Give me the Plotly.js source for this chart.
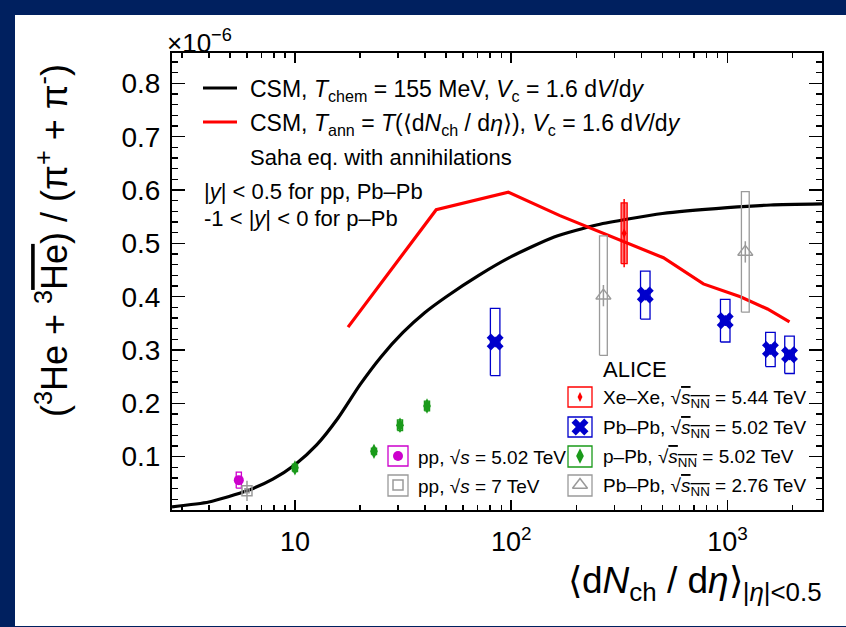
<!DOCTYPE html>
<html>
<head>
<meta charset="utf-8">
<script src="https://cdn.plot.ly/plotly-3.0.1.min.js"></script>
<style>html,body{margin:0;padding:0;background:#00205f;}#chart{width:846px;height:627px;}</style>
</head>
<body>
<div id="chart"></div>
<script>
// ---------- data (values in units of 1e-6) ----------
const csmX = [2.7, 4.0, 6.0, 7.9, 10, 12.6, 15.8, 20, 25.1, 31.6, 39.8, 50.1, 70.8, 100, 158, 251, 501, 1000, 1585, 2738];
const csmY = [0.006, 0.015, 0.036, 0.058, 0.085, 0.122, 0.172, 0.235, 0.288, 0.333, 0.37, 0.4, 0.44, 0.475, 0.512, 0.535, 0.556, 0.567, 0.572, 0.574];

const annX = [17.6, 45, 97, 168, 506, 774, 1148, 1532, 1937];
const annY = [0.343, 0.563, 0.596, 0.552, 0.473, 0.424, 0.40, 0.377, 0.353];

const xexeX = [333];
const xexeY = [0.519];
const xexeSys = [0.057];
const xexeStat = [0.064];

const pb502X = [84.3, 417, 977, 1581, 1937];
const pb502Y = [0.315, 0.403, 0.355, 0.301, 0.291];
const pb502Sys = [0.063, 0.045, 0.040, 0.032, 0.035];
const pb502Stat = [0.010, 0.010, 0.010, 0.010, 0.010];

const pb276X = [267, 1210];
const pb276Y = [0.402, 0.484];
const pb276Sys = [0.112, 0.113];
const pb276Stat = [0.020, 0.020];

const ppbX = [10, 23.2, 30.6, 40.8];
const ppbY = [0.079, 0.110, 0.159, 0.195];
const ppbSys = [0.007, 0.006, 0.010, 0.009];
const ppbStat = [0.006, 0.006, 0.012, 0.010];

const pp502X = [5.5];
const pp502Y = [0.056];
const pp502Sys = [0.015];
const pp502Stat = [0.006];

const pp7X = [6.0];
const pp7Y = [0.036];
const pp7Sys = [0.004];
const pp7Stat = [0.019];

const xTickVals = [10, 100, 1000];
const xTickText = ['10', '10<sup>2</sup>', '10<sup>3</sup>'];
const xMinorVals = [3,4,5,6,7,8,9,20,30,40,50,60,70,80,90,200,300,400,500,600,700,800,900,2000];
const yTickVals = [0.1, 0.2, 0.3, 0.4, 0.5, 0.6, 0.7, 0.8];
const yTickText = ['0.1','0.2','0.3','0.4','0.5','0.6','0.7','0.8'];

// ---------- styling / layout helpers ----------
const FONT = 'Liberation Sans, Arial, Helvetica, sans-serif';
const NAVY = '#00205f';
const RED = '#ff0000', BLUE = '#0000cc', GREEN = '#1a9a1a', MAG = '#cc00cc', GRAY = '#9a9a9a';
const L = 172, R = 822, T = 53, B = 510;
const px = x => (x - L) / (R - L);
const py = y => (B - y) / (B - T);

function boxTrace(xs, ys, sys, hw, color, fill) {
  const bx = [], by = [];
  xs.forEach((x, i) => {
    const x0 = x * Math.pow(10, -hw), x1 = x * Math.pow(10, hw);
    const lo = ys[i] - sys[i], hi = ys[i] + sys[i];
    bx.push(x0, x1, x1, x0, x0, null);
    by.push(lo, lo, hi, hi, lo, null);
  });
  return {x: bx, y: by, mode: 'lines', type: 'scatter', line: {color: color, width: 1.3},
          fill: fill ? 'toself' : 'none', fillcolor: fill || 'rgba(0,0,0,0)',
          hoverinfo: 'skip', showlegend: false, connectgaps: false};
}
function ptTrace(xs, ys, stat, sym, size, color, lw) {
  return {x: xs, y: ys, mode: 'markers', type: 'scatter', showlegend: false,
          marker: {symbol: sym, size: size, color: color, line: {color: color, width: lw || 0}},
          error_y: {type: 'data', array: stat, visible: true, color: color, thickness: 1.5, width: 0}};
}

const traces = [
  {x: csmX, y: csmY, mode: 'lines', type: 'scatter', line: {color: '#000', width: 3.2, shape: 'spline', smoothing: 0.6}, showlegend: false},
  {x: annX, y: annY, mode: 'lines', type: 'scatter', line: {color: RED, width: 3.2}, showlegend: false},
  boxTrace(pb276X, pb276Y, pb276Sys, 0.018, GRAY, null),
  ptTrace(pb276X, pb276Y, pb276Stat, 'triangle-up-open', 13, GRAY, 1.5),
  boxTrace(pb502X, pb502Y, pb502Sys, 0.022, BLUE, null),
  ptTrace(pb502X, pb502Y, pb502Stat, 'x', 15, BLUE, 0),
  boxTrace(xexeX, xexeY, xexeSys, 0.014, RED, 'rgba(255,0,0,0.5)'),
  ptTrace(xexeX, xexeY, xexeStat, 'diamond-tall', 7, RED, 0),
  boxTrace(ppbX, ppbY, ppbSys, 0.012, GREEN, 'rgba(26,154,26,0.3)'),
  ptTrace(ppbX, ppbY, ppbStat, 'diamond-tall', 11, GREEN, 0),
  boxTrace(pp502X, pp502Y, pp502Sys, 0.012, MAG, null),
  ptTrace(pp502X, pp502Y, pp502Stat, 'circle', 10, MAG, 0),
  boxTrace(pp7X, pp7Y, pp7Sys, 0.010, GRAY, null),
  ptTrace(pp7X, pp7Y, pp7Stat, 'square-open', 10, GRAY, 1.5)
];

// legend symbols (pixel-space overlay axes)
const legSym = [
  {x: 580, y: 397, s: 'diamond-tall', z: 7, c: RED, lw: 0},
  {x: 580, y: 427, s: 'x', z: 15, c: BLUE, lw: 0},
  {x: 580, y: 456, s: 'diamond-tall', z: 11, c: GREEN, lw: 0},
  {x: 580, y: 485, s: 'triangle-up-open', z: 13, c: GRAY, lw: 1.5},
  {x: 398, y: 456, s: 'circle', z: 10, c: MAG, lw: 0},
  {x: 398, y: 485, s: 'square-open', z: 10, c: GRAY, lw: 1.5}
];
legSym.forEach(m => traces.push({x: [m.x], y: [m.y], xaxis: 'x2', yaxis: 'y2', mode: 'markers', type: 'scatter',
  showlegend: false, cliponaxis: false, hoverinfo: 'skip',
  marker: {symbol: m.s, size: m.z, color: m.c, line: {color: m.c, width: m.lw}}}));

const shapes = [
  {type: 'rect', xref: 'paper', yref: 'paper', x0: px(15), x1: px(846), y0: py(626), y1: py(15),
   fillcolor: '#ffffff', line: {width: 0}, layer: 'below'},
  {type: 'line', xref: 'paper', yref: 'paper', x0: px(203), x1: px(237), y0: py(88), y1: py(88), line: {color: '#000', width: 3.2}},
  {type: 'line', xref: 'paper', yref: 'paper', x0: px(203), x1: px(237), y0: py(122), y1: py(122), line: {color: RED, width: 3.2}}
];
const legBoxes = [
  [568, 592, 387, 407, RED], [568, 592, 417, 437, BLUE], [568, 592, 446, 467, GREEN], [568, 592, 475, 496, GRAY],
  [388, 408, 446, 466, MAG], [388, 408, 475, 496, GRAY]
];
legBoxes.forEach(b => shapes.push({type: 'rect', xref: 'paper', yref: 'paper', x0: px(b[0]), x1: px(b[1]),
  y0: py(b[3]), y1: py(b[2]), line: {color: b[4], width: 1.3}, fillcolor: 'rgba(0,0,0,0)'}));

const sq = '√<span style="text-decoration:overline"><i>s</i><sub>NN</sub></span>';
function ann(text, x, y, size, xa, extra) {
  return Object.assign({text: text, xref: 'paper', yref: 'paper', x: px(x), y: py(y), xanchor: xa || 'left',
    yanchor: 'middle', showarrow: false, font: {family: FONT, size: size, color: '#000'}}, extra || {});
}
const annotations = [
  ann('×10<sup>−6</sup>', 165, 42, 26),
  ann('(<sup>3</sup>He + <sup>3</sup><span style="text-decoration:overline">He</span>) / (π<sup>+</sup> + π<sup>-</sup>)', 52, 241, 36, 'center', {textangle: -90}),
  ann('⟨d<i>N</i><sub>ch</sub> / d<i>η</i>⟩<sub>|<i>η</i>|&lt;0.5</sub>', 824, 583, 37, 'right'),
  ann('CSM, <i>T</i><sub>chem</sub> = 155 MeV, <i>V</i><sub>c</sub> = 1.6 d<i>V</i>/d<i>y</i>', 248, 90, 23),
  ann('CSM, <i>T</i><sub>ann</sub> = <i>T</i>(⟨d<i>N</i><sub>ch</sub> / d<i>η</i>⟩), <i>V</i><sub>c</sub> = 1.6 d<i>V</i>/d<i>y</i>', 248, 124, 23),
  ann('Saha eq. with annihilations', 248, 157, 22),
  ann('|<i>y</i>| &lt; 0.5 for pp, Pb–Pb', 202, 191, 22),
  ann('-1 &lt; |<i>y</i>| &lt; 0 for p–Pb', 202, 219, 22),
  ann('ALICE', 601, 369, 22),
  ann('Xe–Xe, ' + sq + ' = 5.44 TeV', 601, 399, 19),
  ann('Pb–Pb, ' + sq + ' = 5.02 TeV', 601, 429, 19),
  ann('p–Pb, ' + sq + ' = 5.02 TeV', 601, 458, 19),
  ann('Pb–Pb, ' + sq + ' = 2.76 TeV', 601, 487, 19),
  ann('pp, √<i>s</i> = 5.02 TeV', 416, 457, 19),
  ann('pp, √<i>s</i> = 7 TeV', 416, 486, 19)
];

const axisCommon = {showline: true, linecolor: '#000', linewidth: 2, mirror: 'ticks', ticks: 'inside',
  tickcolor: '#000', tickwidth: 1.5, showgrid: false, zeroline: false,
  tickfont: {family: FONT, size: 27, color: '#000'}};

const layout = {
  width: 846, height: 627, autosize: false,
  margin: {l: L, r: 846 - R, t: T, b: 627 - B, pad: 0},
  paper_bgcolor: NAVY, plot_bgcolor: '#ffffff',
  showlegend: false,
  xaxis: Object.assign({}, axisCommon, {type: 'log', range: [Math.log10(2.7), Math.log10(2738)],
    tickmode: 'array', tickvals: xTickVals, ticktext: xTickText, ticklen: 10, ticklabelstandoff: 7,
    minor: {tickmode: 'array', tickvals: xMinorVals, ticks: 'inside', ticklen: 5, tickwidth: 1.5, tickcolor: '#000', showgrid: false}}),
  yaxis: Object.assign({}, axisCommon, {range: [0, 0.857], tickmode: 'array', tickvals: yTickVals, ticktext: yTickText,
    ticklen: 13, ticklabelstandoff: 4, tickfont: {family: FONT, size: 28, color: '#000'},
    minor: {dtick: 0.02, tick0: 0, ticks: 'inside', ticklen: 6, tickwidth: 1.5, tickcolor: '#000', showgrid: false}}),
  xaxis2: {overlaying: 'x', anchor: 'y2', range: [L, R], visible: false, fixedrange: true},
  yaxis2: {overlaying: 'y', anchor: 'x2', range: [B, T], visible: false, fixedrange: true},
  shapes: shapes,
  annotations: annotations
};

Plotly.newPlot('chart', traces, layout, {displayModeBar: false, staticPlot: true});
</script>
</body>
</html>
